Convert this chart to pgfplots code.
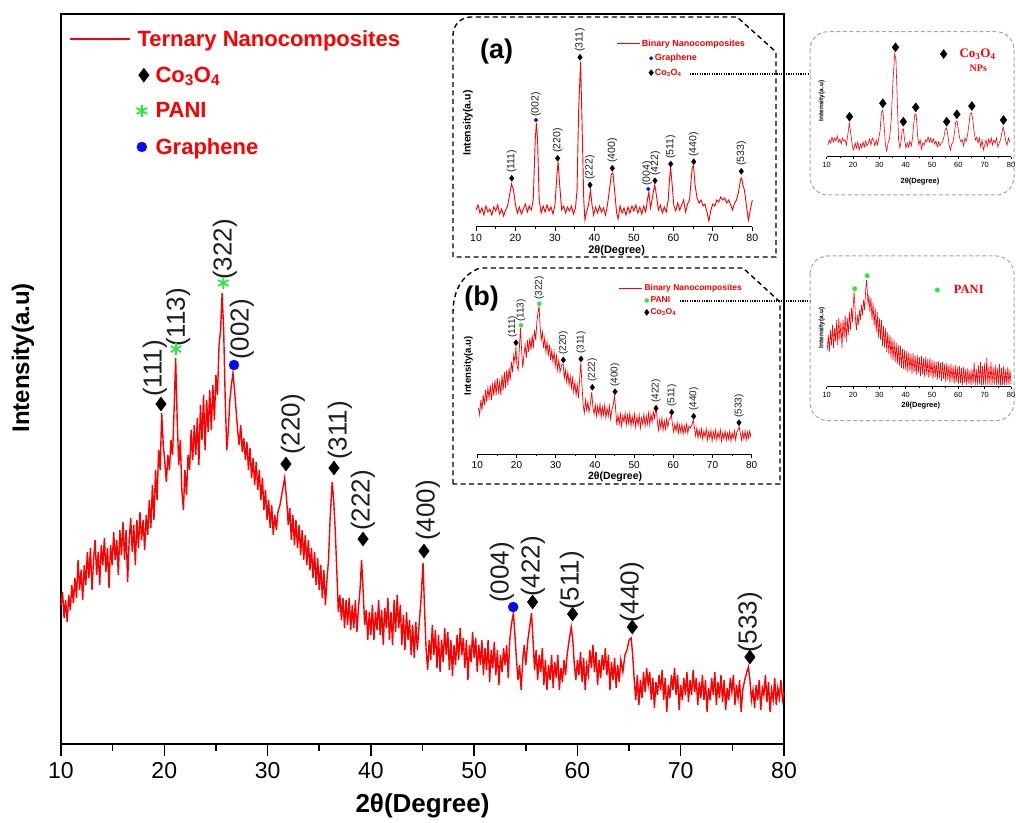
\documentclass[border=0pt]{standalone}
\usepackage{pgfplots}
\pgfplotsset{compat=1.18}
\usepackage{fontspec}
\setmainfont{Liberation Sans}
\newfontfamily\serifbf{Liberation Serif}
\definecolor{myred}{RGB}{255,0,0}
\definecolor{mygreen}{RGB}{40,235,60}
\definecolor{myblue}{RGB}{10,10,240}
\definecolor{lab}{RGB}{30,30,30}
\newcommand{\fs}[1]{\fontsize{#1}{#1}\selectfont}
\pgfplotsset{
  legline/.style={legend image code/.code={\draw[##1] (0pt,0pt) -- (#1,0pt);}},
  legmark/.style={legend image code/.code={\draw[##1] plot coordinates {(#1,0pt)};}},
}
\begin{document}
\begin{tikzpicture}
\useasboundingbox (0pt,0pt) rectangle (1016pt,822pt);
% ================= MAIN AXIS =================
\begin{axis}[
  at={(61pt,78pt)}, anchor=south west, scale only axis,
  width=723pt, height=730pt,
  xmin=10, xmax=80, ymin=-744, ymax=-14, clip=false,
  axis line style={line width=2pt},
  xtick={10,20,...,80}, minor x tick num=1, xtick pos=left, ytick=\empty,
  tick align=outside, major tick length=12pt, minor tick length=7pt,
  tick style={line width=1.5pt, black},
  /pgf/number format/assume math mode=true,
  xticklabel style={font=\fs{23}, yshift=-3pt},
  xlabel={2θ(Degree)},
  xlabel style={font=\fs{26}\bfseries, at={(axis description cs:0.5,-0.0849)}, anchor=center},
  ylabel={Intensity(a.u)},
  ylabel style={font=\fs{24}\bfseries, at={(axis description cs:-0.0526,0.529)}, anchor=center},
  legend style={draw=none, fill=none, at={(axis description cs:0.011,0.980)}, anchor=north west,
    font=\fs{22}\bfseries, text=myred, row sep=16pt, column sep=5pt, inner sep=0pt, nodes={inner sep=1.5pt}},
  legend cell align=left,
]
\addplot[myred, line width=1.4pt, legline=60pt] table {
10.0 -605
10.15 -592
10.3 -618
10.45 -600
10.6 -622
10.75 -595
10.9 -610
11.05 -585
11.2 -603
11.35 -578
11.5 -598
11.65 -560
11.8 -590
11.95 -570
12.1 -600
12.25 -565
12.4 -585
12.55 -552
12.7 -578
12.85 -548
13.0 -590
13.15 -560
13.3 -540
13.45 -575
13.6 -552
13.75 -585
13.9 -545
14.05 -565
14.2 -538
14.35 -572
14.5 -548
14.65 -588
14.8 -545
14.95 -565
15.1 -532
15.25 -560
15.4 -540
15.55 -575
15.7 -530
15.85 -555
16.0 -522
16.15 -560
16.3 -530
16.45 -582
16.6 -540
16.75 -518
16.9 -552
17.05 -525
17.2 -565
17.35 -520
17.5 -548
17.65 -512
17.8 -540
17.95 -520
18.1 -550
18.25 -515
18.4 -535
18.55 -500
18.7 -528
18.85 -485
19.0 -520
19.15 -470
19.3 -500
19.45 -450
19.6 -470
19.75 -413
19.9 -445
20.05 -462
20.2 -482
20.35 -455
20.5 -470
20.65 -440
20.8 -455
20.95 -410
21.1 -358
21.25 -420
21.4 -465
21.55 -440
21.7 -490
21.85 -510
22.0 -470
22.15 -495
22.3 -455
22.45 -470
22.6 -430
22.75 -460
22.9 -425
23.05 -455
23.2 -418
23.35 -465
23.5 -405
23.65 -440
23.8 -395
23.95 -450
24.1 -400
24.25 -432
24.4 -390
24.55 -430
24.7 -385
24.85 -420
25.0 -375
25.15 -395
25.3 -345
25.45 -330
25.6 -293
25.75 -330
25.9 -400
26.05 -450
26.2 -430
26.35 -400
26.5 -385
26.65 -373
26.8 -390
26.95 -410
27.1 -430
27.25 -445
27.4 -425
27.55 -452
27.7 -438
27.85 -460
28.0 -442
28.15 -470
28.3 -448
28.45 -478
28.6 -458
28.75 -485
28.9 -462
29.05 -490
29.2 -470
29.35 -500
29.5 -478
29.65 -510
29.8 -490
29.95 -520
30.1 -500
30.25 -528
30.4 -505
30.55 -535
30.7 -515
30.85 -530
31.0 -512
31.2 -505
31.45 -490
31.65 -478
31.85 -500
32.0 -525
32.15 -508
32.3 -540
32.45 -515
32.6 -545
32.75 -520
32.9 -548
33.05 -525
33.2 -555
33.35 -530
33.5 -560
33.65 -535
33.8 -565
33.95 -540
34.1 -570
34.25 -548
34.4 -578
34.55 -552
34.7 -585
34.85 -558
35.0 -590
35.15 -565
35.3 -598
35.45 -570
35.6 -605
35.75 -580
35.9 -560
36.05 -520
36.25 -482
36.4 -500
36.55 -530
36.7 -570
36.85 -612
37.0 -595
37.15 -620
37.3 -598
37.45 -628
37.6 -600
37.75 -625
37.9 -598
38.05 -630
38.2 -605
38.35 -628
38.5 -600
38.65 -632
38.8 -608
38.95 -590
39.1 -560
39.25 -590
39.4 -625
39.55 -610
39.7 -640
39.85 -612
40.0 -635
40.15 -605
40.3 -640
40.45 -612
40.6 -630
40.75 -600
40.9 -635
41.05 -610
41.2 -645
41.35 -608
41.5 -628
41.65 -598
41.8 -640
41.95 -612
42.1 -645
42.25 -600
42.4 -632
42.55 -595
42.7 -628
42.85 -605
43.0 -645
43.15 -615
43.3 -650
43.45 -612
43.6 -640
43.75 -620
43.9 -655
44.05 -625
44.2 -658
44.35 -622
44.5 -650
44.65 -628
44.85 -600
45.05 -563
45.2 -610
45.35 -650
45.5 -670
45.65 -640
45.8 -660
45.95 -625
46.1 -655
46.25 -630
46.4 -668
46.55 -635
46.7 -672
46.85 -640
47.0 -662
47.15 -628
47.3 -655
47.45 -632
47.6 -670
47.75 -640
47.9 -676
48.05 -645
48.2 -665
48.35 -635
48.5 -660
48.65 -628
48.8 -655
48.95 -638
49.1 -668
49.25 -640
49.4 -680
49.55 -645
49.7 -662
49.85 -632
50.0 -658
50.15 -638
50.3 -672
50.45 -645
50.6 -665
50.75 -640
50.9 -675
51.05 -648
51.2 -670
51.35 -640
51.5 -682
51.65 -650
51.8 -668
51.95 -642
52.1 -675
52.25 -650
52.4 -685
52.55 -655
52.7 -672
52.85 -648
53.0 -665
53.15 -645
53.3 -678
53.45 -640
53.6 -625
53.8 -613
53.95 -635
54.1 -660
54.25 -680
54.4 -665
54.55 -690
54.7 -660
54.85 -645
55.0 -665
55.2 -640
55.4 -625
55.55 -613
55.7 -640
55.85 -670
56.0 -650
56.15 -680
56.3 -655
56.45 -672
56.6 -648
56.75 -685
56.9 -660
57.05 -690
57.2 -665
57.35 -680
57.5 -655
57.65 -688
57.8 -662
57.95 -678
58.1 -655
58.25 -690
58.4 -668
58.55 -682
58.7 -660
58.85 -675
59.0 -655
59.2 -640
59.4 -627
59.55 -640
59.7 -665
59.85 -680
60.0 -660
60.15 -675
60.3 -652
60.45 -682
60.6 -658
60.75 -690
60.9 -665
61.05 -675
61.2 -650
61.35 -668
61.5 -645
61.65 -672
61.8 -652
61.95 -685
62.1 -660
62.25 -678
62.4 -655
62.55 -670
62.7 -648
62.85 -675
63.0 -655
63.15 -690
63.3 -662
63.45 -680
63.6 -658
63.75 -688
63.9 -665
64.05 -682
64.2 -660
64.4 -672
64.6 -655
64.8 -650
65.0 -640
65.2 -638
65.35 -655
65.5 -680
65.65 -700
65.8 -675
65.95 -705
66.1 -680
66.25 -698
66.4 -672
66.55 -692
66.7 -668
66.85 -685
67.0 -672
67.15 -700
67.3 -678
67.45 -708
67.6 -682
67.75 -695
67.9 -675
68.05 -690
68.2 -670
68.35 -700
68.5 -678
68.65 -712
68.8 -685
68.95 -698
69.1 -675
69.25 -690
69.4 -668
69.55 -695
69.7 -675
69.85 -710
70.0 -685
70.15 -700
70.3 -678
70.45 -695
70.6 -672
70.75 -702
70.9 -680
71.05 -695
71.2 -670
71.35 -692
71.5 -678
71.65 -705
71.8 -682
71.95 -698
72.1 -675
72.25 -700
72.4 -680
72.55 -712
72.7 -688
72.85 -700
73.0 -678
73.15 -695
73.3 -672
73.45 -705
73.6 -682
73.75 -698
73.9 -675
74.05 -702
74.2 -680
74.35 -710
74.5 -688
74.65 -700
74.8 -678
74.95 -692
75.1 -675
75.25 -705
75.4 -685
75.55 -698
75.7 -680
75.85 -712
76.0 -690
76.2 -680
76.4 -672
76.55 -667
76.7 -680
76.85 -700
77.0 -690
77.15 -708
77.3 -685
77.45 -700
77.6 -680
77.75 -710
77.9 -688
78.05 -695
78.2 -675
78.35 -702
78.5 -682
78.65 -712
78.8 -690
78.95 -700
79.1 -678
79.25 -705
79.4 -688
79.55 -698
79.7 -680
79.85 -700
80.0 -692
};
\addlegendentry{\hspace*{-18pt}Ternary Nanocomposites}
\addplot[only marks, mark=diamond*, mark size=7pt, black, legmark=74pt] coordinates {
(19.68,-404) (31.78,-464) (36.43,-468) (39.24,-539) (45.14,-551)
(55.66,-602) (59.53,-614) (65.31,-627) (76.70,-657)};
\addlegendentry{Co\textsubscript{3}O\textsubscript{4}}
\addplot[only marks, mark=asterisk, mark size=6pt, mygreen, line width=1.8pt, legmark=72pt] coordinates {
(21.13,-349) (25.71,-283)};
\addlegendentry{PANI}
\addplot[only marks, mark=*, mark size=5pt, myblue, legmark=72pt] coordinates {
(26.75,-365) (53.78,-607)};
\addlegendentry{Graphene}
\begin{scope}[every node/.style={rotate=90, anchor=west, font=\fs{26}, inner sep=0pt, text=lab}]
\node at (axis cs:19.10,-397) {(111)};
\node at (axis cs:21.33,-347) {(113)};
\node at (axis cs:25.88,-280) {(322)};
\node at (axis cs:27.52,-360) {(002)};
\node at (axis cs:32.46,-455) {(220)};
\node at (axis cs:37.01,-460) {(311)};
\node at (axis cs:39.24,-531) {(222)};
\node at (axis cs:45.53,-541) {(400)};
\node at (axis cs:52.69,-603) {(004)};
\node at (axis cs:55.69,-597) {(422)};
\node at (axis cs:59.47,-610) {(511)};
\node at (axis cs:65.28,-623) {(440)};
\node at (axis cs:76.70,-653) {(533)};
\end{scope}
\end{axis}
% ================= INSET (a) =================
\draw[dash pattern=on 5pt off 3.5pt, line width=1.4pt] (453pt,565pt) -- (453pt,787pt) to[out=90,in=180] (471pt,805pt) -- (737pt,805pt) -- (776pt,770pt) -- (776pt,565pt) -- cycle;
\node[font=\fs{27}\bfseries] at (496.7pt,770.3pt) {(a)};
\begin{axis}[
  at={(476pt,595.3pt)}, anchor=south west, scale only axis,
  width=276.3pt, height=186.7pt,
  xmin=10, xmax=80, ymin=-226.7, ymax=-40, clip=false,
  axis x line*=bottom, axis y line=none,
  axis line style={line width=0.9pt},
  xtick={10,20,...,80}, minor x tick num=1, ytick=\empty,
  tick align=outside, major tick length=4pt, minor tick length=2.5pt,
  tick style={line width=0.8pt, black},
  /pgf/number format/assume math mode=true,
  xticklabel style={font=\fs{10.5}},
  legend style={draw=none, fill=none, at={(axis description cs:0.507,1.005)}, anchor=north west,
    font=\fs{9}\bfseries, text=myred, row sep=5.5pt, column sep=1pt, inner sep=0pt, nodes={inner sep=0.5pt}},
  legend cell align=left,
]
\addplot[myred, line width=0.9pt, legline=23pt] table {
10.0 -210
10.5 -205
11.0 -213
11.5 -208
12.0 -215
12.5 -206
13.0 -212
13.5 -209
14.0 -215
14.5 -207
15.0 -211
15.5 -205
16.0 -214
16.5 -209
17.0 -216
17.5 -210
18.0 -206
18.5 -195
19.0 -184
19.5 -190
20.0 -205
20.5 -213
21.0 -207
21.5 -214
22.0 -209
22.5 -204
23.0 -212
23.5 -206
24.0 -210
24.5 -200
25.0 -140
25.3 -123
25.6 -140
26.0 -200
26.5 -213
27.0 -206
27.5 -212
28.0 -205
28.5 -211
29.0 -207
29.5 -214
30.0 -205
30.5 -175
30.8 -162
31.2 -185
31.7 -210
32.2 -206
32.7 -213
33.2 -207
33.7 -211
34.2 -206
34.7 -214
35.2 -208
35.6 -190
36.0 -110
36.5 -62
36.9 -130
37.3 -200
37.6 -220
38.0 -212
38.5 -205
39.0 -190
39.4 -205
39.8 -215
40.3 -207
40.8 -213
41.3 -206
41.8 -212
42.3 -208
42.8 -215
43.3 -205
43.8 -190
44.3 -174
44.7 -173
45.1 -190
45.6 -212
46.0 -219
46.5 -206
47.0 -213
47.5 -208
48.0 -215
48.5 -207
49.0 -213
49.5 -206
50.0 -211
50.5 -205
51.0 -213
51.5 -207
52.0 -214
52.5 -206
53.0 -212
53.5 -198
53.8 -192
54.2 -208
54.6 -200
55.0 -190
55.3 -185
55.7 -195
56.2 -210
56.7 -205
57.2 -213
57.7 -207
58.2 -212
58.7 -200
59.0 -180
59.3 -167
59.7 -185
60.1 -205
60.6 -211
61.1 -203
61.6 -210
62.1 -205
62.6 -200
63.1 -212
63.6 -204
64.1 -200
64.5 -180
64.8 -167
65.1 -166
65.5 -185
66.0 -198
66.5 -203
67.0 -200
67.5 -206
68.0 -204
68.5 -212
69.0 -221
69.5 -210
70.0 -204
70.5 -206
71.0 -200
71.5 -202
72.0 -197
72.5 -200
73.0 -198
73.5 -203
74.0 -200
74.5 -205
75.0 -210
75.5 -203
76.0 -200
76.5 -192
77.0 -180
77.3 -178
77.6 -185
78.0 -190
78.5 -205
79.0 -220
79.5 -210
80.0 -200
};
\addlegendentry{\hspace*{-13pt}Binary Nanocomposites}
\addplot[only marks, mark=*, mark size=1.8pt, myblue, legmark=34.4pt] coordinates {
(25.20,-120) (53.65,-189)};
\addlegendentry{Graphene}
\addplot[only marks, mark=diamond*, mark size=3pt, black, legmark=34.4pt] coordinates {
(19.05,-178.3) (30.70,-158.3) (36.35,-57.3) (38.88,-185) (44.53,-168.3)
(55.35,-180.7) (59.33,-164) (65.16,-161.7) (77.22,-171.3)};
\addlegendentry{Co\textsubscript{3}O\textsubscript{4}}
\begin{scope}[every node/.style={rotate=90, anchor=west, font=\fs{10.5}, inner sep=0pt, text=lab}]
\node at (axis cs:19.05,-173) {(111)};
\node at (axis cs:25.20,-117) {(002)};
\node at (axis cs:30.70,-153) {(220)};
\node at (axis cs:36.35,-52) {(311)};
\node at (axis cs:38.88,-180) {(222)};
\node at (axis cs:44.53,-163) {(400)};
\node at (axis cs:53.35,-186) {(004)};
\node at (axis cs:55.45,-176) {(422)};
\node at (axis cs:59.33,-159) {(511)};
\node at (axis cs:65.16,-157) {(440)};
\node at (axis cs:77.22,-166) {(533)};
\end{scope}
\node[font=\fs{11}\bfseries] at (axis description cs:0.509,-0.1285) {2θ(Degree)};
\node[rotate=90, font=\fs{10.5}\bfseries] at (axis description cs:-0.029,0.555) {Intensity(a.u)};
\end{axis}
% ================= INSET (b) =================
\draw[dash pattern=on 5pt off 3.5pt, line width=1.4pt] (453pt,338pt) -- (453pt,509pt) to[out=90,in=200] (480pt,554pt) -- (743pt,554pt) -- (780pt,520pt) -- (780pt,338pt) -- cycle;
\node[font=\fs{27}\bfseries] at (481.7pt,523.7pt) {(b)};
\begin{axis}[
  at={(477.3pt,368pt)}, anchor=south west, scale only axis,
  width=274.4pt, height=164pt,
  xmin=10, xmax=80, ymin=-454, ymax=-290, clip=false,
  axis x line*=bottom, axis y line=none,
  axis line style={line width=0.9pt},
  xtick={10,20,...,80}, minor x tick num=1, ytick=\empty,
  tick align=outside, major tick length=4pt, minor tick length=2.5pt,
  tick style={line width=0.8pt, black},
  /pgf/number format/assume math mode=true,
  xticklabel style={font=\fs{10}},
  legend style={draw=none, fill=none, at={(axis description cs:0.516,1.037)}, anchor=north west,
    font=\fs{8.5}\bfseries, text=myred, row sep=3.5pt, column sep=1pt, inner sep=0pt, nodes={inner sep=0.5pt}},
  legend cell align=left,
]
\addplot[myred, line width=0.7pt, legline=23pt] table {
10.3 -408
10.6 -415
10.9 -400
11.2 -410
11.5 -395
11.8 -405
12.1 -390
12.4 -402
12.7 -388
13.0 -398
13.3 -385
13.6 -400
13.9 -383
14.2 -396
14.5 -380
14.8 -395
15.1 -378
15.4 -392
15.7 -382
16.0 -395
16.3 -375
16.6 -390
16.9 -372
17.2 -388
17.5 -370
17.8 -385
18.1 -368
18.4 -380
18.7 -362
19.0 -372
19.3 -355
19.6 -362
19.85 -347
20.1 -365
20.4 -370
20.7 -350
21.0 -328
21.3 -350
21.6 -368
21.9 -355
22.2 -345
22.5 -358
22.8 -340
23.1 -352
23.4 -338
23.7 -350
24.0 -335
24.3 -348
24.6 -330
24.9 -340
25.2 -322
25.5 -312
25.75 -306
26.0 -325
26.3 -340
26.6 -332
26.9 -348
27.2 -338
27.5 -352
27.8 -342
28.1 -356
28.4 -345
28.7 -360
29.0 -350
29.3 -362
29.6 -352
29.9 -366
30.2 -356
30.5 -370
30.8 -360
31.1 -372
31.5 -365
31.9 -364
32.2 -378
32.5 -370
32.8 -382
33.1 -372
33.4 -385
33.7 -376
34.0 -388
34.3 -378
34.6 -392
34.9 -382
35.2 -395
35.5 -385
35.8 -398
36.1 -380
36.4 -363
36.7 -385
37.0 -405
37.3 -413
37.6 -400
37.9 -410
38.2 -402
38.5 -412
38.8 -405
39.2 -392
39.5 -408
39.8 -414
40.1 -405
40.4 -416
40.7 -406
41.0 -414
41.3 -404
41.6 -417
41.9 -407
42.2 -415
42.5 -405
42.8 -418
43.1 -408
43.4 -416
43.7 -406
44.0 -419
44.3 -410
44.7 -405
45.0 -395
45.3 -410
45.6 -425
45.9 -415
46.2 -424
46.5 -414
46.8 -426
47.1 -416
47.4 -422
47.7 -413
48.0 -425
48.3 -415
48.6 -423
48.9 -413
49.2 -426
49.5 -416
49.8 -424
50.1 -414
50.4 -427
50.7 -417
51.0 -425
51.3 -415
51.6 -428
51.9 -418
52.2 -424
52.5 -414
52.8 -426
53.1 -416
53.4 -424
53.7 -413
54.0 -425
54.3 -414
54.6 -422
54.9 -412
55.2 -418
55.6 -407
55.9 -420
56.2 -430
56.5 -420
56.8 -428
57.1 -418
57.4 -430
57.7 -421
58.0 -429
58.3 -419
58.6 -427
58.9 -420
59.2 -418
59.5 -415
59.8 -425
60.1 -432
60.4 -424
60.7 -431
61.0 -423
61.3 -433
61.6 -425
61.9 -432
62.2 -424
62.5 -434
62.8 -426
63.1 -432
63.4 -424
63.7 -433
64.0 -426
64.4 -428
64.8 -424
65.1 -420
65.4 -428
65.7 -436
66.0 -428
66.3 -438
66.6 -430
66.9 -437
67.2 -429
67.5 -439
67.8 -431
68.1 -437
68.4 -429
68.7 -440
69.0 -432
69.3 -438
69.6 -430
69.9 -441
70.2 -432
70.5 -438
70.8 -430
71.1 -440
71.4 -432
71.7 -438
72.0 -430
72.3 -441
72.6 -433
72.9 -439
73.2 -431
73.5 -440
73.8 -433
74.1 -439
74.4 -431
74.7 -441
75.0 -433
75.3 -438
75.6 -431
75.9 -440
76.2 -432
76.5 -430
76.8 -427
77.1 -433
77.4 -440
77.7 -432
78.0 -439
78.3 -431
78.6 -440
78.9 -432
79.2 -438
79.5 -431
79.8 -437
};
\addlegendentry{\hspace*{-6pt}Binary Nanocomposites}
\addplot[only marks, mark=*, mark size=2pt, mygreen, legmark=27.3pt] coordinates {
(21.15,-325.3) (25.82,-303.7)};
\addlegendentry{PANI}
\addplot[only marks, mark=diamond*, mark size=3pt, black, legmark=27.3pt] coordinates {
(19.87,-342.7) (31.94,-360) (36.45,-359) (39.34,-387.3) (45.13,-391.7)
(55.59,-408.3) (59.59,-412.3) (65.20,-416.3) (76.76,-422.7)};
\addlegendentry{Co\textsubscript{3}O\textsubscript{4}}
\begin{scope}[every node/.style={rotate=90, anchor=west, font=\fs{10}, inner sep=0pt, text=lab}]
\node at (axis cs:19.00,-338) {(111)};
\node at (axis cs:21.15,-322) {(113)};
\node at (axis cs:25.82,-300) {(322)};
\node at (axis cs:31.94,-355) {(220)};
\node at (axis cs:36.45,-354) {(311)};
\node at (axis cs:39.34,-382) {(222)};
\node at (axis cs:45.13,-387) {(400)};
\node at (axis cs:55.59,-403) {(422)};
\node at (axis cs:59.59,-407) {(511)};
\node at (axis cs:65.20,-411) {(440)};
\node at (axis cs:76.76,-418) {(533)};
\end{scope}
\node[font=\fs{10.5}\bfseries] at (axis description cs:0.502,-0.138) {2θ(Degree)};
\node[rotate=90, font=\fs{9.5}\bfseries] at (axis description cs:-0.0328,0.537) {Intensity(a.u)};
\end{axis}
% ================= connectors =================
\draw[dash pattern=on 1.2pt off 1.2pt, line width=1.2pt] (690pt,748pt) -- (810pt,748pt);
\draw[dash pattern=on 1.2pt off 1.2pt, line width=1.2pt] (680pt,521pt) -- (810pt,521pt);
% ================= SIDE PANEL 1 =================
\draw[gray!70, dash pattern=on 4pt off 2.5pt, line width=1pt, rounded corners=18pt] (810pt,790.3pt) rectangle (1014pt,627pt);
\begin{axis}[
  at={(826.7pt,665.3pt)}, anchor=south west, scale only axis,
  width=184.3pt, height=116.7pt,
  xmin=10, xmax=80, ymin=-156.7, ymax=-40, clip=false,
  axis x line*=bottom, axis y line=none,
  axis line style={line width=0.7pt},
  xtick={10,20,...,80}, minor x tick num=1, ytick=\empty,
  tick align=outside, major tick length=2.5pt, minor tick length=1.5pt,
  tick style={line width=0.6pt, black},
  /pgf/number format/assume math mode=true,
  xticklabel style={font=\fs{7.5}},
  legend style={draw=none, fill=none, at={(axis description cs:0.615,0.880)}, anchor=west,
    font=\fs{13}\serifbf\bfseries, text=myred, column sep=12pt, inner sep=0pt, nodes={inner sep=0.5pt}},
  legend cell align=left,
]
\addplot[myred, line width=0.6pt, forget plot] table {
10.5 -145
11 -140
11.5 -143
12 -137
12.5 -142
13 -138
13.5 -141
14 -136
14.5 -142
15 -139
15.5 -144
16 -138
16.5 -141
17 -140
17.5 -145
18 -135
18.6 -123
19.2 -135
19.8 -147
20.3 -150
20.8 -143
21.3 -148
21.8 -142
22.3 -150
22.8 -144
23.3 -148
23.8 -142
24.3 -147
24.8 -141
25.3 -146
25.8 -143
26.3 -139
26.8 -145
27.3 -138
27.8 -140
28.3 -146
28.8 -140
29.3 -145
29.8 -138
30.3 -130
30.8 -112
31.3 -110
31.8 -125
32.3 -145
32.8 -151
33.3 -143
33.8 -140
34.5 -120
35.2 -80
35.8 -54
36.3 -60
36.8 -100
37.3 -140
37.8 -148
38.3 -140
38.7 -130
39.1 -129
39.6 -140
40.1 -148
40.6 -143
41.1 -147
41.6 -141
42.1 -146
42.6 -138
43.0 -125
43.5 -114
44.0 -115
44.5 -135
45.0 -145
45.5 -140
46.0 -149
46.5 -143
47.0 -145
47.5 -140
48.0 -142
48.5 -137
49.0 -142
49.5 -138
50.0 -143
50.5 -139
51.0 -144
51.5 -141
52.0 -147
52.5 -142
53.0 -146
53.5 -143
54.0 -142
54.5 -137
55.0 -130
55.5 -128
56.0 -135
56.5 -145
57.0 -150
57.5 -144
58.0 -142
58.5 -133
59.0 -122
59.5 -121
60.0 -130
60.5 -138
61.0 -142
61.5 -140
62.0 -146
62.5 -138
63.0 -141
63.5 -135
64.0 -125
64.5 -114
65.0 -113
65.5 -120
66.0 -132
66.5 -140
67.0 -137
67.5 -143
68.0 -138
68.5 -147
69.0 -140
69.5 -150
70.0 -145
70.5 -140
71.0 -146
71.5 -139
72.0 -144
72.5 -138
73.0 -145
73.5 -140
74.0 -143
74.5 -138
75.0 -147
75.5 -143
76.0 -140
76.5 -133
77.0 -127
77.5 -133
78.0 -141
78.5 -145
79.0 -138
79.5 -142
};
\addplot[only marks, mark=diamond*, mark size=4.5pt, black, legmark=0pt] coordinates {
(18.66,-116.7) (31.30,-103.3) (36.13,-47.3) (39.11,-121.7) (43.83,-107.3)
(55.58,-121.7) (59.44,-114.3) (65.13,-106) (77.14,-120)};
\addlegendentry{Co\textsubscript{3}O\textsubscript{4}}
\node[font=\fs{7.5}\bfseries] at (axis description cs:0.506,-0.214) {2θ(Degree)};
\node[rotate=90, font=\fs{6.5}\bfseries] at (axis description cs:-0.027,0.477) {Intensity(a.u)};
\end{axis}
\node[font=\fs{10}\serifbf\bfseries, text=myred] at (978.3pt,753.7pt) {NPs};
% ================= SIDE PANEL 2 =================
\draw[gray!70, dash pattern=on 4pt off 2.5pt, line width=1pt, rounded corners=18pt] (810pt,566pt) rectangle (1014pt,401.3pt);
\begin{axis}[
  at={(826.7pt,435.3pt)}, anchor=south west, scale only axis,
  width=184.3pt, height=121.7pt,
  xmin=10, xmax=80, ymin=-386.7, ymax=-265, clip=false,
  axis x line*=bottom, axis y line=none,
  axis line style={line width=0.7pt},
  xtick={10,20,...,80}, minor x tick num=1, ytick=\empty,
  tick align=outside, major tick length=2.5pt, minor tick length=1.5pt,
  tick style={line width=0.6pt, black},
  /pgf/number format/assume math mode=true,
  xticklabel style={font=\fs{7.5}},
  legend style={draw=none, fill=none, at={(axis description cs:0.587,0.795)}, anchor=west,
    font=\fs{12.5}\serifbf\bfseries, text=myred, column sep=14pt, inner sep=0pt, nodes={inner sep=0.5pt}},
  legend cell align=left,
]
\addplot[myred, line width=0.6pt, forget plot] table {
10.2 -350
10.6 -335
11.0 -352
11.4 -330
11.8 -345
12.2 -325
12.6 -348
13.0 -328
13.4 -342
13.8 -320
14.2 -345
14.6 -318
15.0 -340
15.4 -322
15.8 -348
16.2 -320
16.6 -338
17.0 -315
17.4 -342
17.8 -318
18.2 -335
18.6 -312
19.0 -330
19.4 -308
19.8 -322
20.1 -305
20.4 -292
20.7 -305
21.0 -322
21.3 -330
21.6 -315
22.0 -325
22.4 -310
22.8 -320
23.2 -305
23.6 -315
24.0 -300
24.4 -310
24.8 -290
25.1 -280
25.4 -290
25.7 -305
26.0 -295
26.4 -312
26.8 -298
27.2 -320
27.6 -303
28.0 -326
28.4 -308
28.8 -332
29.2 -312
29.6 -338
30.0 -318
30.4 -340
30.8 -320
31.2 -346
31.6 -326
32.0 -348
32.4 -328
32.8 -352
33.2 -332
33.6 -354
34.0 -335
34.4 -358
34.8 -338
35.2 -360
35.6 -340
36.0 -362
36.4 -343
36.8 -364
37.2 -345
37.6 -366
38.0 -346
38.4 -368
38.8 -349
39.2 -369
39.6 -350
40.0 -370
40.4 -351
40.8 -372
41.2 -352
41.6 -371
42.0 -354
42.4 -374
42.8 -353
43.2 -372
43.6 -356
44.0 -375
44.4 -355
44.8 -373
45.2 -357
45.6 -376
46.0 -356
46.4 -374
46.8 -358
47.2 -377
47.6 -357
48.0 -375
48.4 -359
48.8 -378
49.2 -358
49.6 -376
50.0 -360
50.4 -379
50.8 -361
51.2 -377
51.6 -362
52.0 -380
52.4 -361
52.8 -378
53.2 -363
53.6 -381
54.0 -362
54.4 -379
54.8 -364
55.2 -382
55.6 -363
56.0 -380
56.4 -365
56.8 -383
57.2 -364
57.6 -381
58.0 -366
58.4 -384
58.8 -365
59.2 -382
59.6 -367
60.0 -384
60.4 -366
60.8 -383
61.2 -368
61.6 -385
62.0 -367
62.4 -383
62.8 -369
63.2 -385
63.6 -368
64.0 -384
64.4 -370
64.8 -385
65.2 -369
65.6 -384
66.0 -362
66.4 -385
66.8 -369
67.2 -385
67.6 -365
68.0 -384
68.4 -362
68.8 -385
69.2 -366
69.6 -385
70.0 -363
70.4 -385
70.8 -358
71.2 -385
71.6 -366
72.0 -385
72.4 -362
72.8 -385
73.2 -367
73.6 -385
74.0 -365
74.4 -385
74.8 -368
75.2 -385
75.6 -364
76.0 -385
76.4 -368
76.8 -385
77.2 -366
77.6 -385
78.0 -369
78.4 -385
78.8 -367
79.2 -385
79.6 -370
80.0 -384
};
\addplot[only marks, mark=*, mark size=2.2pt, mygreen, legmark=0pt] coordinates {
(20.63,-288.7) (25.35,-275.7)};
\addlegendentry{PANI}
\node[font=\fs{7.5}\bfseries] at (axis description cs:0.510,-0.156) {2θ(Degree)};
\node[rotate=90, font=\fs{6.5}\bfseries] at (axis description cs:-0.027,0.482) {Intensity(a.u)};
\end{axis}
\end{tikzpicture}
\end{document}
